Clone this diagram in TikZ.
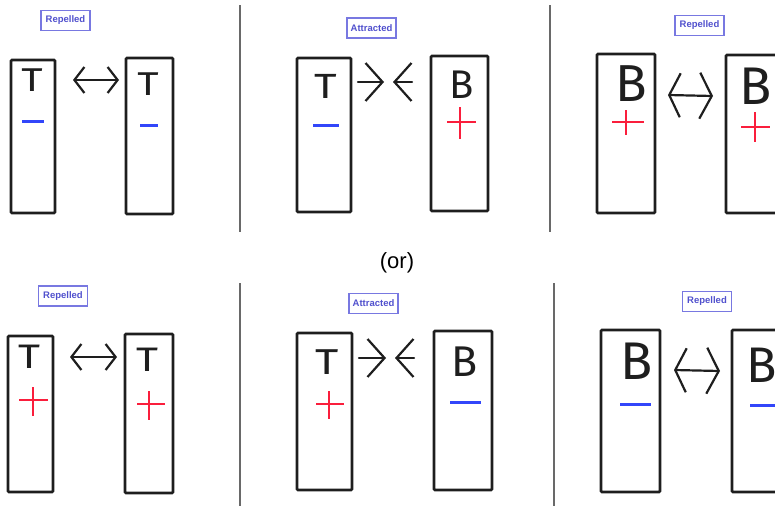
\documentclass[tikz,border=0pt]{standalone}
\usepackage{fontspec}
\setmainfont{Liberation Sans}
\newfontfamily\handfont{Fira Sans}
\usetikzlibrary{arrows.meta}
\definecolor{lblue}{RGB}{80,80,205}
\definecolor{lborder}{RGB}{120,120,225}
\definecolor{mblue}{RGB}{50,70,250}
\definecolor{pred}{RGB}{250,30,60}
\definecolor{ink}{RGB}{30,30,30}
\definecolor{divgrey}{RGB}{105,105,105}
\newcommand{\wideT}{\scalebox{1.25}[1]{T}}
\begin{document}
\begin{tikzpicture}[x=1pt,y=-1pt,
  bar/.style={draw=ink,line width=2.6pt,rounded corners=1pt,inner sep=0pt},
  tag/.style={draw=lborder,line width=1.1pt,text=lblue,font=\fontsize{9.5}{10}\selectfont\bfseries,minimum width=49pt,minimum height=20pt,inner sep=0pt},
  letter/.style={inner sep=0pt,text=ink},
  minusmark/.style={draw=mblue,line width=3pt},
  plusmark/.style={draw=pred,line width=2.8pt},
  hand/.style={draw=ink,line width=2.2pt,line cap=round,line join=round},
  smallhead/.style={hand,{Straight Barb[length=10pt,width=26pt]}-{Straight Barb[length=10pt,width=26pt]}},
  bighead/.style={hand,-{Straight Barb[length=17pt,width=38pt]}},
  widehead/.style={hand,{Straight Barb[length=11pt,width=44pt]}-{Straight Barb[length=12pt,width=46pt]}},
  divider/.style={draw=divgrey,line width=2.6pt}]
\path[use as bounding box] (0,0) rectangle (775,506);
\clip (0,0) rectangle (775,506);

% ---------- dividers ----------
\draw[divider] (240,5) -- (240,232);
\draw[divider] (550,5) -- (550,232);
\draw[divider] (240,283) -- (240,506);
\draw[divider] (554,283) -- (554,506);

% ---------- labels ----------
\node[tag] (l1) at (65.5,20.5) {Repelled};
\node[tag] (l2) at (371.5,28) {Attracted};
\node[tag] (l3) at (699.5,25.5) {Repelled};
\node[tag] (l4) at (63,296) {Repelled};
\node[tag] (l5) at (373.5,303.5) {Attracted};
\node[tag] (l6) at (707,301.5) {Repelled};

\node[inner sep=0pt,font=\fontsize{22}{22}\selectfont,text=black] (or) at (397,263) {(or)};

% ---------- top row bars ----------
\node[bar,minimum width=44pt,minimum height=153pt] (b1) at (33,136.5) {};
\node[bar,minimum width=47pt,minimum height=156pt] (b2) at (149.5,136) {};
\node[bar,minimum width=54pt,minimum height=154pt] (b3) at (324,135) {};
\node[bar,minimum width=57pt,minimum height=155pt] (b4) at (459.5,133.5) {};
\node[bar,minimum width=58pt,minimum height=159pt] (b5) at (626,133.5) {};
\node[bar,minimum width=59pt,minimum height=158pt] (b6) at (755.5,134) {};

% ---------- bottom row bars ----------
\node[bar,minimum width=45pt,minimum height=156pt] (c1) at (30.5,414) {};
\node[bar,minimum width=48pt,minimum height=159pt] (c2) at (149,413.5) {};
\node[bar,minimum width=55pt,minimum height=157pt] (c3) at (324.5,411.5) {};
\node[bar,minimum width=58pt,minimum height=159pt] (c4) at (463,410.5) {};
\node[bar,minimum width=59pt,minimum height=162pt] (c5) at (630.5,411) {};
\node[bar,minimum width=60pt,minimum height=162pt] (c6) at (762,411) {};

% ---------- letters ----------
\node[letter,font=\handfont\fontsize{33}{33}\selectfont] (tb1) at (32,80.5) {\wideT};
\node[letter,font=\handfont\fontsize{33}{33}\selectfont] (tb2) at (148,84) {\wideT};
\node[letter,font=\handfont\fontsize{35}{35}\selectfont] (tb3) at (326,86.5) {\wideT};
\node[letter,font=\handfont\fontsize{40}{40}\selectfont] (bb4) at (461.5,85) {B};
\node[letter,font=\handfont\fontsize{52}{52}\selectfont] (bb5) at (631,83.5) {B};
\node[letter,font=\handfont\fontsize{53}{53}\selectfont] (bb6) at (756,86) {B};

\node[letter,font=\handfont\fontsize{34}{34}\selectfont] (tc1) at (29,357) {\wideT};
\node[letter,font=\handfont\fontsize{34}{34}\selectfont] (tc2) at (147.5,360) {\wideT};
\node[letter,font=\handfont\fontsize{36}{36}\selectfont] (tc3) at (327,362.5) {\wideT};
\node[letter,font=\handfont\fontsize{43}{43}\selectfont] (bc4) at (465,361.5) {B};
\node[letter,font=\handfont\fontsize{53}{53}\selectfont] (bc5) at (637,361) {B};
\node[letter,font=\handfont\fontsize{50}{50}\selectfont] (bc6) at (762,365) {B};

% ---------- charges, top row ----------
\draw[minusmark] (22,121) -- (44,121);
\draw[minusmark] (140,125) -- (158,125);
\draw[minusmark] (313,125) -- (339,125);
\draw[plusmark] (447,122) -- (476,122) (460,107) -- (460,139);
\draw[plusmark] (612,122) -- (644,122) (626,110) -- (626,135);
\draw[plusmark] (741,127) -- (770,127) (755,112) -- (755,142);

% ---------- charges, bottom row ----------
\draw[plusmark] (19,400) -- (48,400) (33,387) -- (33,416);
\draw[plusmark] (137,404) -- (165,404) (149,391) -- (149,420);
\draw[plusmark] (316,404) -- (344,404) (329,391) -- (329,419);
\draw[minusmark] (450,402) -- (481,402);
\draw[minusmark] (620,404) -- (651,404);
\draw[minusmark] (750,405) -- (780,405);

% ---------- arrows, top row ----------
\coordinate (p1a) at (73,80);   \coordinate (p1b) at (119,80);
\draw[smallhead] (p1a) -- (p1b);
\coordinate (p2a) at (358,82);  \coordinate (p2b) at (384,82);
\draw[bighead] (p2a) -- (p2b);
\coordinate (p2c) at (412,82);  \coordinate (p2d) at (393,82);
\draw[bighead] (p2c) -- (p2d);
\coordinate (p3a) at (668,95);  \coordinate (p3b) at (713,96);
\draw[widehead] (p3a) -- (p3b);

% ---------- arrows, bottom row ----------
\coordinate (q1a) at (70,357);  \coordinate (q1b) at (117,357);
\draw[smallhead] (q1a) -- (q1b);
\coordinate (q2a) at (359,358); \coordinate (q2b) at (386,358);
\draw[bighead] (q2a) -- (q2b);
\coordinate (q2c) at (414,358); \coordinate (q2d) at (395,358);
\draw[bighead] (q2c) -- (q2d);
\coordinate (q3a) at (674,370); \coordinate (q3b) at (720,371);
\draw[widehead] (q3a) -- (q3b);
\end{tikzpicture}
\end{document}
